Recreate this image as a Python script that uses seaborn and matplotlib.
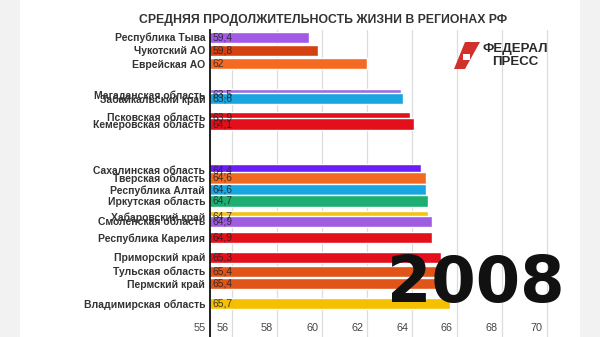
import matplotlib
matplotlib.use("Agg")
import matplotlib.pyplot as plt
import matplotlib.transforms as mtransforms
from matplotlib.patches import Rectangle, Polygon
import seaborn as sns
import numpy as np

# ---- data ----
regions = ["Республика Тыва", "Чукотский АО", "Еврейская АО",
           "Магаданская область", "Забайкальский край",
           "Псковская область", "Кемеровская область",
           "Сахалинская область", "Тверская область",
           "Республика Алтай", "Иркутская область",
           "Хабаровский край", "Смоленская область",
           "Республика Карелия", "Приморский край",
           "Тульская область", "Пермский край", "Владимирская область"]
values = [59.4, 59.8, 62.0, 63.5, 63.6, 63.9, 64.1, 64.4, 64.6,
          64.6, 64.7, 64.7, 64.9, 64.9, 65.3, 65.4, 65.4, 65.7]
# animated (fractional) rank of each bar in this frame
ranks = [0.0, 1.0, 2.0, 4.32, 4.62, 6.05, 6.54, 10.0, 10.6,
         11.47, 12.33, 13.5, 13.87, 15.07, 16.58, 17.6, 18.57, 20.04]
colors = ["#a259e6", "#d4400f", "#f56a23", "#9c6ce0", "#17a6df",
          "#e3101c", "#e3101c", "#6a1ef5", "#f26a22", "#17a6df",
          "#1fae72", "#f2c418", "#a05ce0", "#e3101c", "#e3101c",
          "#e0541a", "#e0541a", "#f5c000"]
xticks = [55, 56, 58, 60, 62, 64, 66, 68, 70]
year = "2008"
title = "СРЕДНЯЯ ПРОДОЛЖИТЕЛЬНОСТЬ ЖИЗНИ В РЕГИОНАХ РФ"

sns.set_style("white")
plt.rcParams["font.family"] = ["Liberation Sans", "DejaVu Sans"]

W, H = 600, 337
fig = plt.figure(figsize=(6.0, 3.37), dpi=100)
fig.patch.set_facecolor("#f2f2f2")
fig.patches.append(Rectangle((20 / W, 0), 560 / W, 1, transform=fig.transFigure,
                             facecolor="white", edgecolor="none", zorder=-1))

ax = fig.add_axes([210 / W, 0.0, 355 / W, (H - 30) / H])
ax.set_facecolor("none")

for name, v, r, c in zip(regions, values, ranks, colors):
    sns.barplot(x=[v], y=[r], orient="h", native_scale=True, width=0.83,
                color=c, saturation=1, ax=ax, zorder=2)
    ax.text(55.1, r, f"{v:g}".replace(".", ","), va="center", ha="left",
            fontsize=7.4, color="#222222", alpha=0.85, zorder=3)

ax.set_xlim(55, 70.8)
ax.set_ylim(22.56, -0.53)
ax.set_xlabel("")
ax.set_ylabel("")

ax.set_yticks(ranks)
ax.set_yticklabels(regions, fontsize=7.5, fontweight="bold", color="#333333")
ax.tick_params(axis="y", length=0, pad=3.5)

ax.set_xticks(xticks)
ax.set_xticklabels([str(t) for t in xticks], fontsize=7.8, color="#444444")
ax.tick_params(axis="x", length=0, pad=-10)
offset = mtransforms.ScaledTranslation(-3 / 72, 0, fig.dpi_scale_trans)
for lab in ax.get_xticklabels():
    lab.set_horizontalalignment("right")
    lab.set_transform(lab.get_transform() + offset)

ax.grid(axis="x", color="#dcdcdc", linewidth=0.9, zorder=0)
ax.grid(axis="y", visible=False)
ax.set_axisbelow(True)
for s in ["top", "right", "bottom"]:
    ax.spines[s].set_visible(False)
ax.spines["left"].set_color("#111111")
ax.spines["left"].set_linewidth(1.3)

# title
fig.text(323 / W, 1 - 20 / H, title, ha="center", va="center",
         fontsize=8.8, fontweight="bold", color="#333333")

# logo
fig.patches.append(Polygon([(454 / W, 1 - 69 / H), (465 / W, 1 - 69 / H),
                            (480 / W, 1 - 42 / H), (465 / W, 1 - 42 / H)],
                           closed=True, transform=fig.transFigure,
                           facecolor="#d0312d", edgecolor="none", zorder=5))
fig.patches.append(Rectangle((463 / W, 1 - 60 / H), 7 / W, 6 / H,
                             transform=fig.transFigure, facecolor="white",
                             edgecolor="none", zorder=6))
fig.text(515 / W, 1 - 49 / H, "ФЕДЕРАЛ", ha="center", va="center",
         fontsize=9.5, fontweight="bold", color="#2a2a2a")
fig.text(515 / W, 1 - 62 / H, "ПРЕСС", ha="center", va="center",
         fontsize=9.5, fontweight="bold", color="#2a2a2a")

# year
fig.text(476 / W, 1 - 302 / H, year, ha="center", va="baseline",
         fontsize=46, fontweight="bold", color="#111111",
         family=["DejaVu Sans"], zorder=10)

fig.savefig("out.png", dpi=100, facecolor=fig.get_facecolor())
